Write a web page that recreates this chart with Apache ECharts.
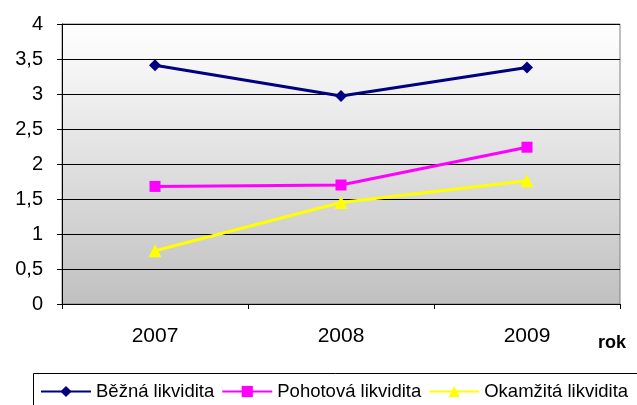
<!DOCTYPE html>
<html><head><meta charset="utf-8">
<script src="https://cdn.jsdelivr.net/npm/echarts@6/dist/echarts.min.js"></script>
<style>html,body{margin:0;padding:0;background:#fff}#c{width:637px;height:405px}</style>
</head><body><div id="c"></div>
<script>
const categories = ['2007', '2008', '2009'];
const bezna = [3.41, 2.97, 3.38];
const pohotova = [1.68, 1.70, 2.24];
const okamzita = [0.76, 1.45, 1.76];
const yTicks = [0, 0.5, 1, 1.5, 2, 2.5, 3, 3.5, 4];

const chart = echarts.init(document.getElementById('c'));
const font = 'Liberation Sans, Arial, sans-serif';
function mk(name, data, color, symbol, size) {
  return {
    name, type: 'line', data, symbol, symbolSize: size,
    lineStyle: { color, width: 3 }, itemStyle: { color },
    animation: false
  };
}
chart.setOption({
  animation: false,
  grid: { left: 62, right: 17, top: 24, bottom: 101,
    show: true, borderWidth: 1, borderColor: '#808080',
    backgroundColor: new echarts.graphic.LinearGradient(0, 0, 0, 1, [
      { offset: 0, color: '#ffffff' }, { offset: 1, color: '#c0c0c0' }]) },
  xAxis: {
    type: 'category', data: categories, boundaryGap: true,
    axisLine: { lineStyle: { color: '#000', width: 1 } },
    axisTick: { show: true, length: 5, lineStyle: { color: '#000' } },
    axisLabel: { color: '#000', fontSize: 21, fontFamily: font, margin: 22 }
  },
  yAxis: {
    type: 'value', min: 0, max: 4, interval: 0.5,
    axisLine: { show: true, lineStyle: { color: '#000', width: 1 } },
    axisTick: { show: true, length: 5, inside: false, lineStyle: { color: '#000' } },
    splitLine: { show: true, lineStyle: { color: '#000', width: 1 } },
    axisLabel: { color: '#000', fontSize: 20, fontFamily: font, margin: 19,
      formatter: v => String(v).replace('.', ',') }
  },
  legend: {
    left: 40, top: 382, padding: 0, width: 800, itemWidth: 50, itemHeight: 14, itemGap: 7,
    textStyle: { color: '#000', fontSize: 18.5, fontFamily: font },
    data: ['Běžná likvidita', 'Pohotová likvidita', 'Okamžitá likvidita']
  },
  graphic: [
    { type: 'rect', shape: { x: 33.5, y: 373.5, width: 640, height: 40 },
      style: { fill: 'none', stroke: '#000', lineWidth: 1 } },
    { type: 'text', left: 598, top: 334,
      style: { text: 'rok', fill: '#000', fontSize: 18, fontWeight: 'bold', fontFamily: font } }
  ],
  series: [
    mk('Běžná likvidita', bezna, '#000080', 'diamond', 12),
    mk('Pohotová likvidita', pohotova, '#ff00ff', 'rect', 11),
    mk('Okamžitá likvidita', okamzita, '#ffff00', 'triangle', 13)
  ]
});
</script></body></html>
